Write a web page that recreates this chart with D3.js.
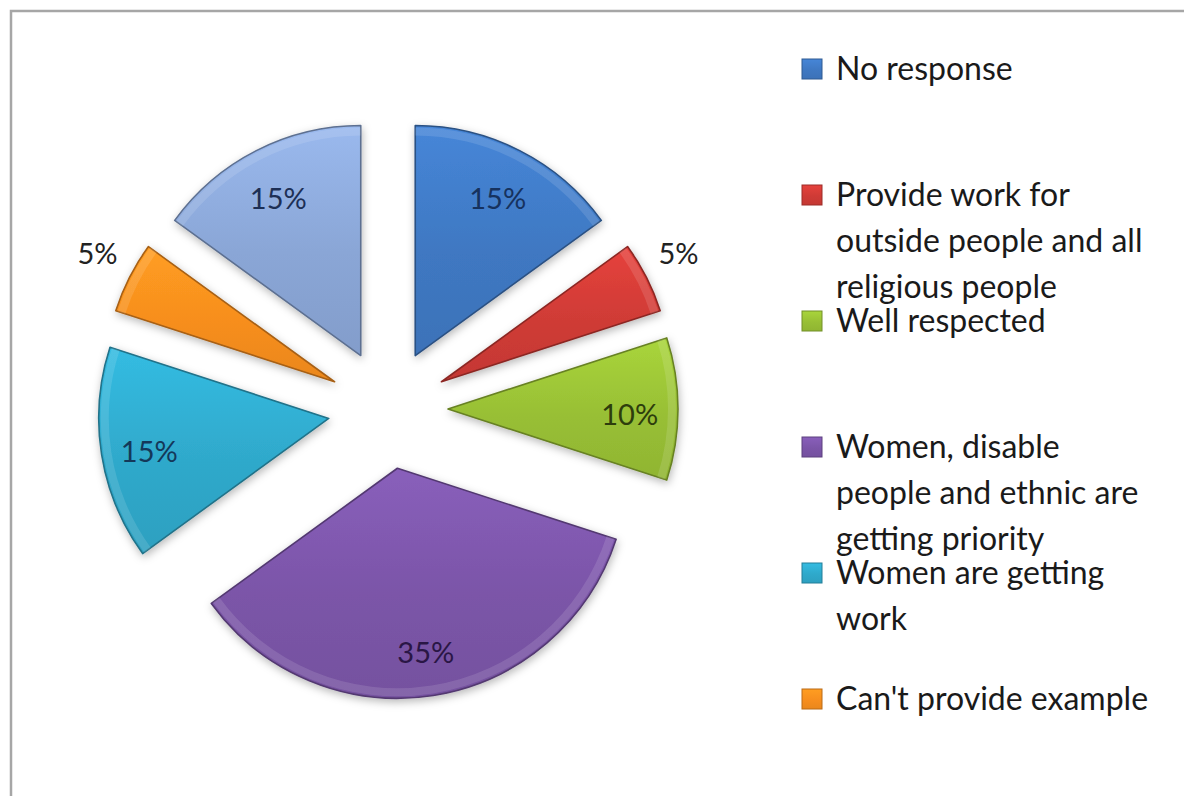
<!doctype html>
<html lang="en">
<head>
<meta charset="UTF-8" />
<title>Exploded pie</title>
<script src="https://d3js.org/d3.v7.min.js"></script>
<style>
    body, html {
        margin: 0;
        padding: 0;
        background: #ffffff;
        overflow: hidden;
    }
    svg {
        display: block;
        font-family: Lato, "Open Sans", sans-serif;
    }
    .frame {
        fill: none;
        stroke: #a6a6a6;
        stroke-width: 2.5px;
    }
    .legend text {
        font-size: 32px;
        fill: #1a1a1a;
    }
    .label {
        font-size: 29px;
    }
</style>
</head>
<body>
<svg id="chart" width="1184" height="796"></svg>
<script>
    // data
    const categories = [
        "No response",
        "Provide work for outside people and all religious people",
        "Well respected",
        "Women, disable people and ethnic are getting priority",
        "Women are getting work",
        "Can't provide example",
        "(not shown in legend)"
    ];
    const values = [15, 5, 10, 35, 15, 5, 15];
    const percentLabels = ["15%", "5%", "10%", "35%", "15%", "5%", "15%"];
    // legend text as wrapped in the picture (last slice is cut off the legend)
    const legendLines = [
        ["No response"],
        ["Provide work for", "outside people and all", "religious people"],
        ["Well respected"],
        ["Women, disable", "people and ethnic  are", "getting priority"],
        ["Women are getting", "work"],
        ["Can't provide example"]
    ];

    const colors = ["#3f78c2", "#cf3b36", "#98bf35", "#7b55a8", "#2fa9cb", "#f78e1e", "#8aa6d6"];
    const labelColors = ["#16325e", "#222222", "#2d3d0c", "#2a1645", "#14385a", "#222222", "#1d2f55"];

    const svg = d3.select("#chart");
    const width = 1184, height = 796;

    svg.append("rect").attr("class", "frame")
        .attr("x", 11).attr("y", 11)
        .attr("width", width + 20).attr("height", height + 20);

    const defs = svg.append("defs");

    const shadow = defs.append("filter").attr("id", "shadow")
        .attr("x", "-20%").attr("y", "-20%").attr("width", "140%").attr("height", "140%");
    shadow.append("feDropShadow")
        .attr("dx", 1).attr("dy", 3).attr("stdDeviation", 4)
        .attr("flood-color", "#000").attr("flood-opacity", 0.28);

    colors.forEach((c, i) => {
        const g = defs.append("linearGradient").attr("id", "grad" + i)
            .attr("x1", 0).attr("y1", 0).attr("x2", 0).attr("y2", 1);
        g.append("stop").attr("offset", "0%").attr("stop-color", d3.color(c).brighter(0.3));
        g.append("stop").attr("offset", "55%").attr("stop-color", c);
        g.append("stop").attr("offset", "100%").attr("stop-color", d3.color(c).darker(0.15));
    });

    const cx = 388, cy = 409;
    const radius = 230;
    const explode = 60;

    const pie = d3.pie().sort(null).value(d => d).startAngle(0).endAngle(2 * Math.PI);
    const arcs = pie(values);

    const arc = d3.arc().innerRadius(0).outerRadius(radius);

    const chart = svg.append("g").attr("transform", `translate(${cx},${cy})`);

    function dir(d) {
        const a = (d.startAngle + d.endAngle) / 2;
        return [Math.sin(a), -Math.cos(a)];
    }
    function isSmall(d) {
        return (d.endAngle - d.startAngle) < 0.4;
    }

    const slices = chart.selectAll("g.slice")
        .data(arcs)
        .enter()
        .append("g")
        .attr("class", "slice")
        .attr("transform", d => {
            const [dx, dy] = dir(d);
            return `translate(${dx * explode},${dy * explode})`;
        });

    slices.append("path")
        .attr("d", arc)
        .attr("fill", (d, i) => `url(#grad${i})`)
        .attr("stroke", (d, i) => d3.color(colors[i]).darker(1.1))
        .attr("stroke-width", 1.6)
        .attr("stroke-linejoin", "round")
        .attr("filter", "url(#shadow)");

    // inner highlight along the rim for a soft bevel look
    const rim = d3.arc().innerRadius(radius - 10).outerRadius(radius - 2);
    slices.append("path")
        .attr("d", rim)
        .attr("fill", "#ffffff")
        .attr("opacity", 0.12);

    // percentage labels: small slices outside, others inside
    slices.append("text")
        .attr("class", "label")
        .attr("text-anchor", "middle")
        .attr("dominant-baseline", "central")
        .attr("x", d => dir(d)[0] * (isSmall(d) ? radius + 36 : radius * 0.79))
        .attr("y", d => dir(d)[1] * (isSmall(d) ? radius + 36 : radius * 0.79) + (isSmall(d) ? -9 : 4))
        .attr("fill", (d, i) => labelColors[i])
        .text((d, i) => percentLabels[i]);

    // legend, entries evenly spaced; the 7th falls below the frame
    const legendX = 802;
    const firstBaseline = 80;
    const entryStep = 126;
    const lineHeight = 46;

    const legend = svg.append("g").attr("class", "legend");
    legendLines.forEach((lines, i) => {
        const base = firstBaseline + i * entryStep;
        const g = legend.append("g").attr("transform", `translate(${legendX},${base})`);
        g.append("rect")
            .attr("y", -21)
            .attr("width", 20).attr("height", 20)
            .attr("fill", `url(#grad${i})`)
            .attr("stroke", d3.color(colors[i]).darker(0.8))
            .attr("stroke-width", 1);
        const t = g.append("text").attr("x", 34).attr("y", 0);
        lines.forEach((ln, j) => {
            t.append("tspan").attr("x", 34).attr("dy", j === 0 ? 0 : lineHeight).text(ln);
        });
    });
</script>
</body>
</html>
